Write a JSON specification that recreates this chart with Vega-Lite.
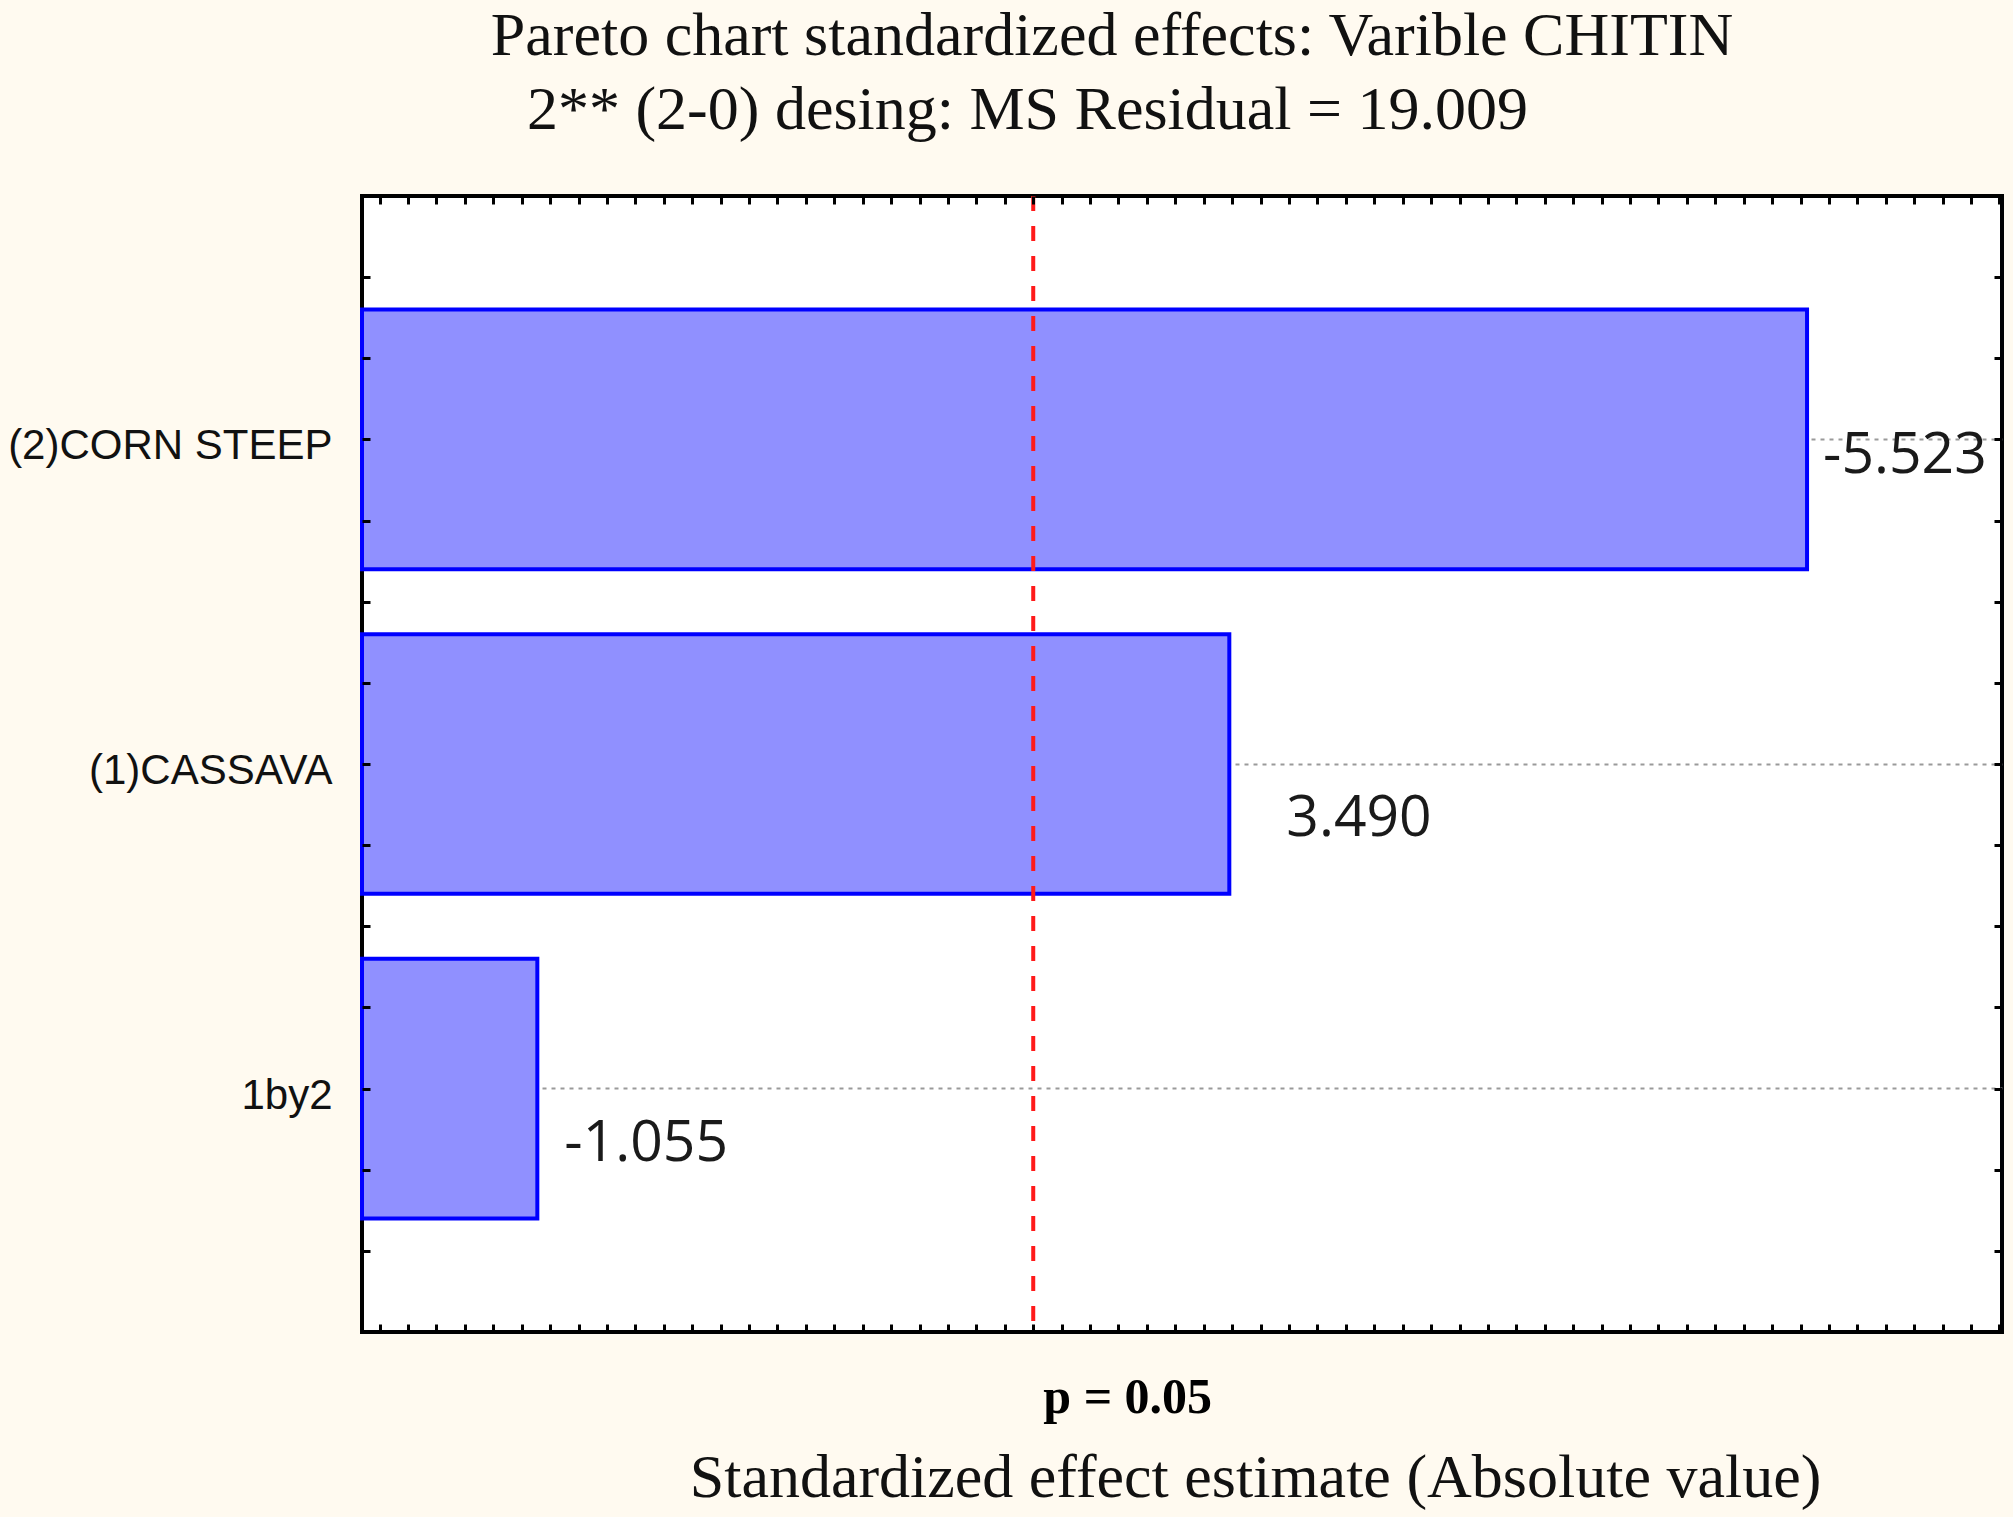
{
  "$schema": "https://vega.github.io/schema/vega-lite/v6.json",
  "width": 1640,
  "height": 1136,
  "autosize": "none",
  "padding": {"left": 362, "top": 196, "right": 11, "bottom": 185},
  "background": "#fffaf0",
  "config": {
    "view": {"fill": "#ffffff", "stroke": "#000000", "strokeWidth": 4},
    "axis": {"domain": false}
  },
  "title": {
    "text": "Pareto chart standardized effects: Varible CHITIN",
    "font": "Liberation Serif",
    "fontSize": 62,
    "fontWeight": "normal",
    "color": "#111111",
    "anchor": "middle",
    "frame": "group",
    "dx": -70,
    "offset": 10
  },
  "data": {"values": [
    {"effect": "(2)CORN STEEP", "value": 5.523, "label": "-5.523", "rank": 1},
    {"effect": "(1)CASSAVA", "value": 3.490, "label": "3.490", "rank": 2},
    {"effect": "1by2", "value": 1.055, "label": "-1.055", "rank": 3}
  ]},
  "resolve": {"scale": {"y": "independent"}, "axis": {"x": "independent", "y": "independent"}},
  "layer": [
    {
      "mark": {"type": "bar", "fill": "#9090ff", "stroke": "#0000ff", "strokeWidth": 4},
      "encoding": {
        "y": {
          "field": "effect", "type": "nominal",
          "scale": {"type": "band", "domain": ["(2)CORN STEEP", "(1)CASSAVA", "1by2"], "paddingInner": 0.2, "paddingOuter": 0.35},
          "axis": {"orient": "left", "title": null, "ticks": false, "labelPadding": 30, "labelLimit": 400,
                   "labelFont": "Liberation Sans", "labelFontSize": 42, "labelColor": "#111111", "labelOffset": 7,
                   "grid": true, "gridColor": "#9a9a9a", "gridDash": [4, 5], "gridWidth": 2, "domain": false}
        },
        "x": {
          "field": "value", "type": "quantitative",
          "scale": {"domain": [0.438, 6.209], "clamp": true, "zero": false, "nice": false},
          "axis": {"orient": "bottom", "values": [2.8], "ticks": false, "grid": false, "domain": false,
                   "labelExpr": "'p = 0.05'", "labelFont": "Liberation Serif", "labelFontWeight": "bold", "labelFontSize": 50,
                   "labelColor": "#000000", "labelPadding": 80, "labelBaseline": "alphabetic", "labelOffset": 94,
                   "labelFlush": false, "labelBound": false, "labelOverlap": false,
                   "title": "Standardized effect estimate (Absolute value)", "titleFont": "Liberation Serif",
                   "titleFontSize": 62, "titleFontWeight": "normal", "titleColor": "#111111",
                   "titleX": 893, "titleY": 164, "titleAlign": "center", "titleBaseline": "alphabetic"}
        }
      }
    },
    {
      "data": {"values": [{"crit": 2.8}]},
      "mark": {"type": "rule", "color": "#ff1a1a", "strokeWidth": 4, "strokeDash": [15, 15]},
      "encoding": {
        "x": {"field": "crit", "type": "quantitative",
              "axis": {"orient": "top", "labels": false, "ticks": true, "tickSize": -8, "tickWidth": 3, "tickColor": "#000000",
                       "tickCount": 58, "grid": false, "domain": false, "zindex": 1,
                       "title": "2** (2-0) desing: MS Residual = 19.009", "titleFont": "Liberation Serif",
                       "titleFontSize": 62, "titleFontWeight": "normal", "titleColor": "#111111",
                       "titleX": 665, "titleY": -68, "titleAlign": "center", "titleBaseline": "alphabetic"}}
      }
    },
    {
      "transform": [{"filter": "datum.rank == 1"}],
      "mark": {"type": "text", "align": "left", "baseline": "middle", "dx": 16, "dy": 17, "font": "Open Sans", "fontSize": 57, "color": "#1a1a1a"},
      "encoding": {
        "y": {"field": "effect", "type": "nominal", "scale": {"type": "band", "domain": ["(2)CORN STEEP", "(1)CASSAVA", "1by2"], "paddingInner": 0.2, "paddingOuter": 0.35}, "axis": null},
        "x": {"field": "value", "type": "quantitative",
              "axis": {"orient": "bottom", "labels": false, "ticks": true, "tickSize": -8, "tickWidth": 3, "tickColor": "#000000",
                       "tickCount": 58, "grid": false, "title": null, "domain": false, "zindex": 1}},
        "text": {"field": "label"}
      }
    },
    {
      "transform": [{"filter": "datum.rank == 2"}],
      "mark": {"type": "text", "align": "left", "baseline": "middle", "dx": 57, "dy": 55, "font": "Open Sans", "fontSize": 57, "color": "#1a1a1a"},
      "encoding": {
        "y": {"field": "effect", "type": "nominal", "scale": {"type": "band", "domain": ["(2)CORN STEEP", "(1)CASSAVA", "1by2"], "paddingInner": 0.2, "paddingOuter": 0.35}, "axis": null},
        "x": {"field": "value", "type": "quantitative", "axis": null},
        "text": {"field": "label"}
      }
    },
    {
      "transform": [{"filter": "datum.rank == 3"}],
      "mark": {"type": "text", "align": "left", "baseline": "middle", "dx": 27, "dy": 55, "font": "Open Sans", "fontSize": 57, "color": "#1a1a1a"},
      "encoding": {
        "y": {"field": "effect", "type": "nominal", "scale": {"type": "band", "domain": ["(2)CORN STEEP", "(1)CASSAVA", "1by2"], "paddingInner": 0.2, "paddingOuter": 0.35}, "axis": null},
        "x": {"field": "value", "type": "quantitative", "axis": null},
        "text": {"field": "label"}
      }
    },
    {
      "mark": {"type": "point", "opacity": 0},
      "encoding": {
        "y": {"field": "rank", "type": "quantitative", "scale": {"domain": [0.25, 3.75], "nice": false, "zero": false},
              "axis": {"orient": "left", "values": [0.5, 0.75, 1, 1.25, 1.5, 1.75, 2, 2.25, 2.5, 2.75, 3, 3.25, 3.5],
                       "labels": false, "ticks": true, "tickSize": -8, "tickWidth": 3, "tickColor": "#000000",
                       "grid": false, "title": null, "domain": false, "zindex": 1}}
      }
    },
    {
      "mark": {"type": "point", "opacity": 0},
      "encoding": {
        "y": {"field": "rank", "type": "quantitative", "scale": {"domain": [0.25, 3.75], "nice": false, "zero": false},
              "axis": {"orient": "right", "values": [0.5, 0.75, 1, 1.25, 1.5, 1.75, 2, 2.25, 2.5, 2.75, 3, 3.25, 3.5],
                       "labels": false, "ticks": true, "tickSize": -8, "tickWidth": 3, "tickColor": "#000000",
                       "grid": false, "title": null, "domain": false, "zindex": 1}}
      }
    }
  ]
}
